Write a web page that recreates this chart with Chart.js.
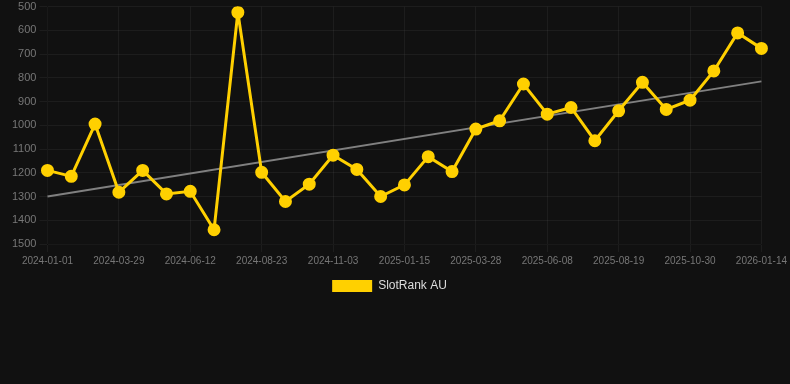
<!DOCTYPE html>
<html>
<head>
<meta charset="utf-8">
<script src="https://cdn.jsdelivr.net/npm/chart.js@4"></script>
<style>
  html, body { margin: 0; padding: 0; background: #111111; overflow: hidden; }
  #wrap { width: 790px; height: 305px; position: relative; margin-top: -3px; }
</style>
</head>
<body>
<div id="wrap"><canvas id="rankChart"></canvas></div>
<script>
// dates of each snapshot
const labels = [
    '2024-01-01', '2024-01-30', '2024-02-28', '2024-03-29', '2024-04-23', '2024-05-18',
    '2024-06-12', '2024-07-06', '2024-07-30', '2024-08-23', '2024-09-16', '2024-10-10',
    '2024-11-03', '2024-11-27', '2024-12-21', '2025-01-15', '2025-02-08', '2025-03-04',
    '2025-03-28', '2025-04-21', '2025-05-15', '2025-06-08', '2025-07-02', '2025-07-26',
    '2025-08-19', '2025-09-12', '2025-10-06', '2025-10-30', '2025-11-24', '2025-12-19',
    '2026-01-14'
];

// rank values (lower is better, axis reversed)
const rankAU = [
    1190, 1215, 995, 1282, 1190, 1289,
    1278, 1440, 524, 1198, 1321, 1248,
    1126, 1186, 1300, 1251, 1132, 1195,
    1016, 981, 826, 953, 925, 1065,
    939, 819, 933, 894, 771, 611,
    676
];

// trend line: only start and end, gaps spanned
const trendLine = labels.map(() => null);
trendLine[0] = 1300;
trendLine[trendLine.length - 1] = 815;

const yMin = 500;
const yMax = 1500;

let ctx = document.getElementById('rankChart').getContext('2d');
new Chart(ctx, {
    type: 'line',
    data: {
        labels: labels,
        datasets: [
            {
                label: 'SlotRank AU',
                data: rankAU,
                borderColor: '#ffd000',
                backgroundColor: '#ffd000',
                borderWidth: 3,
                pointRadius: 5,
                pointHoverRadius: 6,
                pointBackgroundColor: '#ffd000',
                pointBorderColor: '#ffd000',
                tension: 0
            },
            {
                label: 'trend',
                data: trendLine,
                borderColor: '#808080',
                borderWidth: 2,
                pointRadius: 0,
                spanGaps: true,
                fill: false
            }
        ]
    },
    options: {
        responsive: true,
        maintainAspectRatio: false,
        animation: false,
        layout: { padding: { left: 9, right: 20 } },
        plugins: {
            legend: {
                position: 'bottom',
                labels: {
                    color: '#dddddd',
                    font: { size: 12 },
                    boxWidth: 40,
                    boxHeight: 12,
                    // hide the trend entry, no outline on the box
                    generateLabels: chart => Chart.defaults.plugins.legend.labels.generateLabels(chart)
                        .filter(item => item.text !== 'trend')
                        .map(item => ({ ...item, lineWidth: 0 }))
                }
            },
            tooltip: { enabled: false }
        },
        scales: {
            x: {
                grid: { color: 'rgba(255,255,255,0.05)' },
                ticks: {
                    color: '#777777',
                    font: { size: 10 },
                    maxRotation: 0,
                    autoSkip: true
                }
            },
            y: {
                reverse: true,
                min: yMin,
                max: yMax,
                grid: { color: 'rgba(255,255,255,0.05)' },
                ticks: {
                    color: '#777777',
                    font: { size: 11 },
                    stepSize: 100,
                    callback: value => String(value)
                }
            }
        }
    }
});
</script>
</body>
</html>
